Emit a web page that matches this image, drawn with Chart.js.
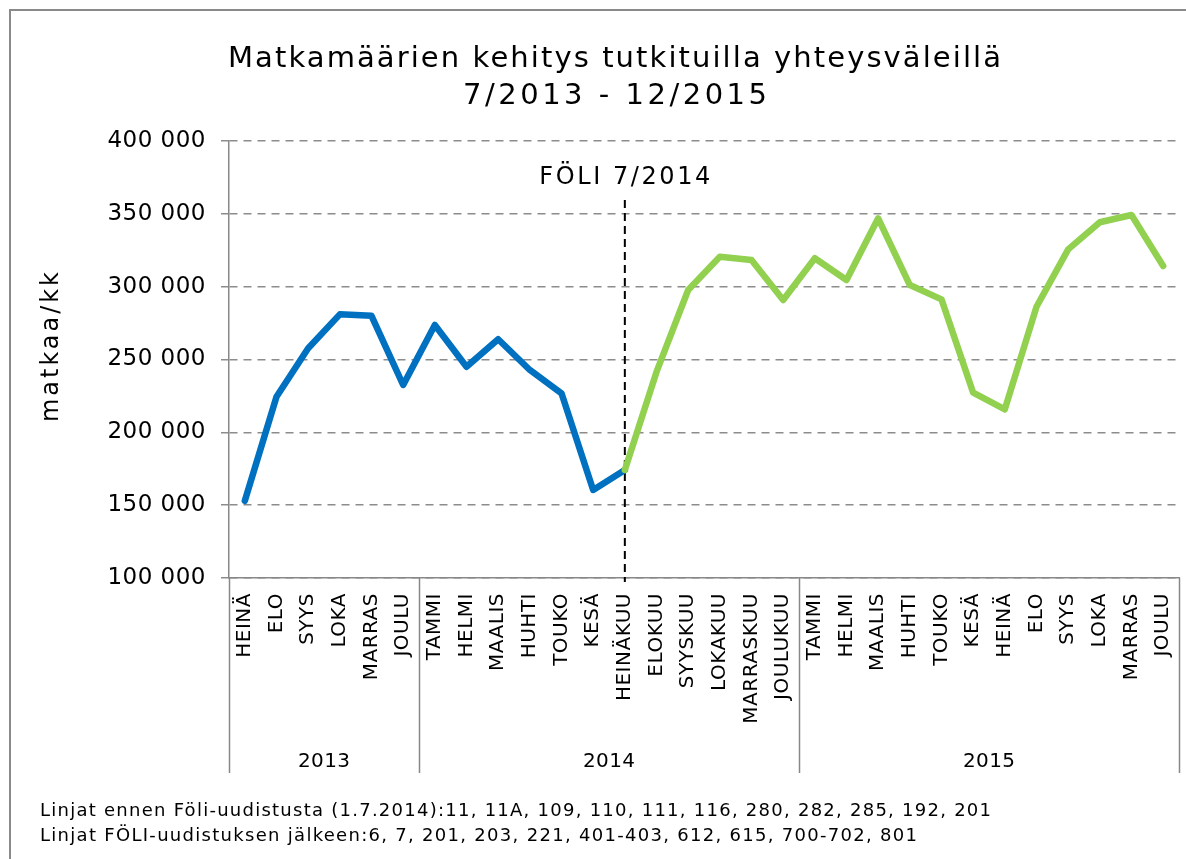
<!DOCTYPE html>
<html>
<head>
<meta charset="utf-8">
<script src="https://cdn.jsdelivr.net/npm/chart.js@4.4.1/dist/chart.umd.min.js"></script>
<style>
  html, body { margin: 0; padding: 0; background: #fff; }
  canvas { display: block; }
</style>
</head>
<body>
<canvas id="c" width="1186" height="859"></canvas>
<script>
// ---- data ----
const months = ["HEINÄ","ELO","SYYS","LOKA","MARRAS","JOULU",
  "TAMMI","HELMI","MAALIS","HUHTI","TOUKO","KESÄ","HEINÄKUU","ELOKUU","SYYSKUU","LOKAKUU","MARRASKUU","JOULUKUU",
  "TAMMI","HELMI","MAALIS","HUHTI","TOUKO","KESÄ","HEINÄ","ELO","SYYS","LOKA","MARRAS","JOULU"];
const years = ["2013","2014","2015"];
const yearSizes = [6, 12, 12];
const beforeFoli = [153000,224400,257700,281000,280000,232500,273700,245000,263900,242800,226800,160400,174200,
  null,null,null,null,null,null,null,null,null,null,null,null,null,null,null,null,null];
const afterFoli = [null,null,null,null,null,null,null,null,null,null,null,null,174200,
  241500,297700,320600,318300,290800,319500,304600,346900,301100,291300,227200,215800,286200,325600,344200,349200,314200];
const yTicks = [100000,150000,200000,250000,300000,350000,400000];
const foliIndex = 12;
const titleLines = ["Matkamäärien kehitys tutkituilla yhteysväleillä", "7/2013 - 12/2015"];
const yTitle = "matkaa/kk";
const foliLabel = "FÖLI 7/2014";
const notes = ["Linjat ennen Föli-uudistusta (1.7.2014):11, 11A, 109, 110, 111, 116, 280, 282, 285, 192, 201",
  "Linjat FÖLI-uudistuksen jälkeen:6, 7, 201, 203, 221, 401-403, 612, 615, 700-702, 801"];

const FONT = '"DejaVu Sans", Verdana, sans-serif';
const fmt = v => String(v).replace(/\B(?=(\d{3})+(?!\d))/g, ' ');

function fitText(ctx, text, x, y, width, size, opts) {
  opts = opts || {};
  ctx.save();
  ctx.font = size + 'px ' + FONT;
  ctx.letterSpacing = '0px';
  const w0 = ctx.measureText(text).width;
  const ls = (width - w0) / Math.max(1, text.length - 1);
  ctx.letterSpacing = ls + 'px';
  ctx.fillStyle = opts.color || '#000';
  ctx.textBaseline = opts.baseline || 'alphabetic';
  ctx.textAlign = 'left';
  ctx.translate(x, y);
  if (opts.rotate) ctx.rotate(opts.rotate);
  const startX = opts.align === 'left' ? 0 : -width / 2;
  ctx.fillText(text, startX, 0);
  ctx.restore();
}

const spacingPlugin = {
  id: 'spacing',
  beforeLayout(chart) { chart.ctx.letterSpacing = '0.5px'; },
  beforeDraw(chart) { chart.ctx.letterSpacing = '0.5px'; }
};

const decorPlugin = {
  id: 'decor',
  beforeDatasetsDraw(chart) {
    const ctx = chart.ctx, x = chart.scales.x, area = chart.chartArea;
    const px = x.getPixelForValue(foliIndex);
    ctx.save();
    ctx.strokeStyle = '#000';
    ctx.lineWidth = 2;
    ctx.setLineDash([8, 5]);
    ctx.beginPath();
    ctx.moveTo(px, 200);
    ctx.lineTo(px, area.bottom + 4);
    ctx.stroke();
    ctx.restore();
  },
  afterDraw(chart) {
    const ctx = chart.ctx, x = chart.scales.x, area = chart.chartArea;
    const px = x.getPixelForValue(foliIndex);
    const w = (area.right - area.left) / months.length;
    ctx.save();
    ctx.strokeStyle = '#888';
    ctx.lineWidth = 1.5;
    let start = 0;
    const edges = [0];
    yearSizes.forEach(s => { start += s; edges.push(start); });
    edges.forEach(e => {
      const ex = Math.round(area.left + e * w) + 0.5;
      ctx.beginPath();
      ctx.moveTo(ex, area.bottom);
      ctx.lineTo(ex, 773);
      ctx.stroke();
    });
    ctx.restore();
    years.forEach((yr, i) => {
      const cx = area.left + (edges[i] + edges[i + 1]) / 2 * w;
      fitText(ctx, yr, cx, 767, 52, 20);
    });
    // title
    fitText(ctx, titleLines[0], 614.5, 67, 773, 29);
    fitText(ctx, titleLines[1], 615, 104, 304, 29);
    // y title
    fitText(ctx, yTitle, 58, 347, 150, 24, {rotate: -Math.PI / 2});
    // FÖLI label
    fitText(ctx, foliLabel, px, 184, 171, 24);
    // notes
    fitText(ctx, notes[0], 40, 816, 951, 18, {align: 'left'});
    fitText(ctx, notes[1], 40, 841, 877, 18, {align: 'left'});
    // outer border
    ctx.save();
    ctx.strokeStyle = '#8a8a8a';
    ctx.lineWidth = 2;
    ctx.beginPath();
    ctx.moveTo(10, 859);
    ctx.lineTo(10, 10);
    ctx.lineTo(1186, 10);
    ctx.stroke();
    ctx.restore();
  }
};

new Chart(document.getElementById('c'), {
  type: 'line',
  data: {
    labels: months,
    datasets: [
      { label: 'Föli', data: afterFoli, borderColor: '#92D050', backgroundColor: '#92D050',
        borderWidth: 6.5, pointRadius: 0, borderJoinStyle: 'round', borderCapStyle: 'round', spanGaps: false, order: 0 },
      { label: 'Ennen', data: beforeFoli, borderColor: '#0070C0', backgroundColor: '#0070C0',
        borderWidth: 6.5, pointRadius: 0, borderJoinStyle: 'round', borderCapStyle: 'round', spanGaps: false, order: 1 }
    ]
  },
  options: {
    responsive: false,
    devicePixelRatio: 1,
    animation: false,
    layout: { padding: { top: 141, right: 7, left: 0, bottom: 0 } },
    plugins: { legend: { display: false }, tooltip: { enabled: false }, title: { display: false } },
    scales: {
      x: {
        type: 'category',
        offset: true,
        grid: { display: false, drawTicks: false },
        border: { display: true, color: '#888', width: 1.5 },
        ticks: { autoSkip: false, maxRotation: 90, minRotation: 90, padding: 15, color: '#000',
                 font: { family: FONT, size: 20 } },
        afterFit(scale) { scale.height = 281; scale.paddingLeft = 0; scale.paddingRight = 0; }
      },
      y: {
        min: yTicks[0], max: yTicks[yTicks.length - 1],
        afterBuildTicks(scale) { scale.ticks = yTicks.map(v => ({ value: v })); },
        grid: { color: '#8c8c8c', lineWidth: 1.5, tickLength: 8, tickColor: '#8c8c8c', tickBorderDash: [] },
        border: { display: true, color: '#888', width: 1.5, dash: [8, 6] },
        ticks: { padding: 15, color: '#000', font: { family: FONT, size: 23 }, callback: v => fmt(v) },
        afterFit(scale) { scale.width = 229; }
      }
    }
  },
  plugins: [spacingPlugin, decorPlugin]
});
</script>
</body>
</html>
